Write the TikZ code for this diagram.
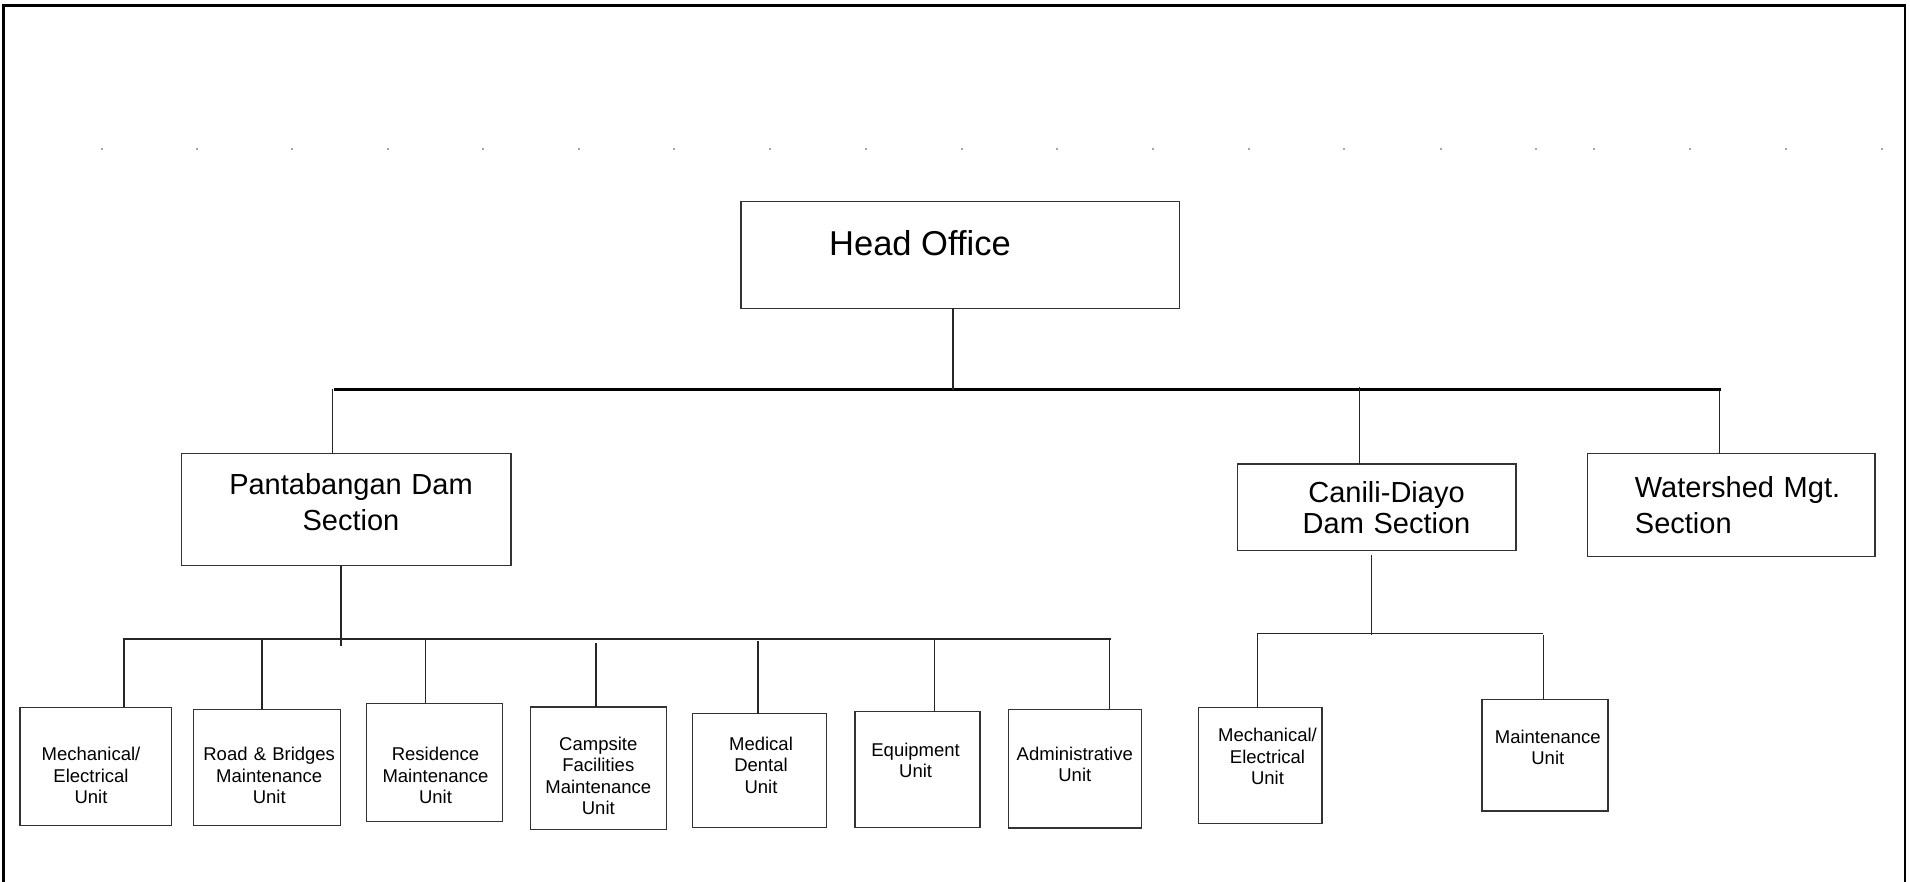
\documentclass[tikz,border=0pt]{standalone}
\usepackage{fontspec}
\setmainfont{Liberation Sans}
\begin{document}
\begin{tikzpicture}[x=1pt,y=-1pt,
  box/.style={draw=black!80, line width=1.3pt, inner sep=0pt, outer sep=0pt, anchor=north west},
  conn/.style={draw=black!85, line width=1.1pt},
  mainbar/.style={draw=black, line width=2.3pt},
  headtext/.style={font=\fontsize{34.5}{40}\selectfont, inner sep=0pt, anchor=base west},
  secttext/.style={font=\fontsize{29}{36}\selectfont, inner sep=0pt, anchor=base, text width=300pt, align=center},
  unittext/.style={font=\fontsize{18.5}{21.6}\selectfont, inner sep=0pt, anchor=base, text width=160pt, align=center},
  tabmark/.style={fill=black!35}
]
\useasboundingbox (0,0) rectangle (1910,882);
\fill[white] (0,0) rectangle (1910,882);

% page frame (open at the bottom)
\draw[line width=2.3pt, black] (3.5,882) -- (3.5,5.5) -- (1905,5.5) -- (1905,882);

% faint tab marks
\foreach \x in {102,197,292,388,483,579,674,770,866,962,1057,1153,1249,1344,1441,1536,1594,1690,1786,1882}
  \fill[tabmark] (\x-1.2,148.5) rectangle (\x+1.2,150);

% ---------- boxes ----------
\node[box, minimum width=438.5pt, minimum height=107pt] (head) at (741,201.5) {};
\node[box, minimum width=329.7pt, minimum height=112pt] (pant) at (181.3,453.7) {};
\node[box, minimum width=278.4pt, minimum height=86.7pt] (can)  at (1237.6,464) {};
\node[box, minimum width=287.5pt, minimum height=103pt] (wat) at (1587.5,453.7) {};

\node[box, minimum width=151.5pt, minimum height=118pt]   (u1) at (20,707.2) {};
\node[box, minimum width=147.3pt, minimum height=116pt]   (u2) at (193.3,709.3) {};
\node[box, minimum width=135.7pt, minimum height=118.4pt] (u3) at (366.5,703.3) {};
\node[box, minimum width=135.7pt, minimum height=122.3pt] (u4) at (530.8,707) {};
\node[box, minimum width=133.9pt, minimum height=113.6pt] (u5) at (692.4,713.7) {};
\node[box, minimum width=125pt,   minimum height=115.6pt] (u6) at (854.9,711.7) {};
\node[box, minimum width=133pt,   minimum height=118.7pt] (u7) at (1008.5,709.3) {};
\node[box, minimum width=123.3pt, minimum height=116pt]   (u8) at (1198.7,707.5) {};
\node[box, minimum width=126pt,   minimum height=111.7pt] (u9) at (1482,699.3) {};

% ---------- texts ----------
\node[headtext] (headT) at (829,256) {Head Office};
\node[secttext] (pantT) at (351,494) {Pantabangan Dam\\Section};
\node[secttext, font=\fontsize{29}{30.5}\selectfont] (canT) at (1386.5,502.7) {Canili-Diayo\\Dam Section};
\node[secttext, align=left, anchor=base west, text width=240pt, font=\fontsize{29}{35.3}\selectfont] (watT) at (1634.7,497.7) {Watershed Mgt.\\Section};

\node[unittext] (u1T) at (91,760.7)   {Mechanical/\\Electrical\\Unit};
\node[unittext] (u2T) at (269.2,760.7)  {Road \& Bridges\\Maintenance\\Unit};
\node[unittext] (u3T) at (435.5,760.5)  {Residence\\Maintenance\\Unit};
\node[unittext] (u4T) at (598.3,750)  {Campsite\\Facilities\\Maintenance\\Unit};
\node[unittext] (u5T) at (761,750)    {Medical\\Dental\\Unit};
\node[unittext] (u6T) at (915.6,756)  {Equipment\\Unit};
\node[unittext] (u7T) at (1074.8,760) {Administrative\\Unit};
\node[unittext] (u8T) at (1267.5,741.7) {Mechanical/\\Electrical\\Unit};
\node[unittext] (u9T) at (1547.8,743.3) {Maintenance\\Unit};

% ---------- top level connectors ----------
\coordinate (tbL) at (334,389.5);
\coordinate (tbR) at (1721,389.5);
\coordinate (hoJ) at (953,389.5);
\coordinate (pJ)  at (332.5,389.3);
\coordinate (cJ)  at (1359.5,386.7);
\coordinate (wJ)  at (1719.5,390);

\draw[mainbar] (tbL) -- (tbR);
\draw[conn] (head.south -| hoJ) -- (hoJ);
\draw[conn] (pJ) -- (pJ |- pant.north);
\draw[conn] (cJ) -- (cJ |- can.north);
\draw[conn] (wJ) -- (wJ |- wat.north);

% ---------- Pantabangan units ----------
\coordinate (psL) at (122.8,639);
\coordinate (psR) at (1111,639);
\coordinate (pdB) at (341,645.7);
\draw[conn] (psL) -- (psR);
\draw[conn] (pant.south -| pdB) -- (pdB);

\coordinate (d1) at (124,639);
\coordinate (d2) at (262,639);
\coordinate (d3) at (425.5,639);
\coordinate (d4) at (596,643.3);
\coordinate (d5) at (758,641);
\coordinate (d6) at (934.8,639);
\coordinate (d7) at (1109.8,639);
\draw[conn] (d1) -- (d1 |- u1.north);
\draw[conn] (d2) -- (d2 |- u2.north);
\draw[conn] (d3) -- (d3 |- u3.north);
\draw[conn] (d4) -- (d4 |- u4.north);
\draw[conn] (d5) -- (d5 |- u5.north);
\draw[conn] (d6) -- (d6 |- u6.north);
\draw[conn] (d7) -- (d7 |- u7.north);

% ---------- Canili-Diayo units ----------
\coordinate (cdT) at (1371.4,555);
\coordinate (cdB) at (1371.4,635);
\coordinate (csL) at (1257.5,633.3);
\coordinate (csR) at (1542.7,633.3);
\coordinate (d8) at (1257.5,633.3);
\coordinate (d9) at (1543.2,635);
\draw[conn] (cdT) -- (cdB);
\draw[conn] (csL) -- (csR);
\draw[conn] (d8) -- (d8 |- u8.north);
\draw[conn] (d9) -- (d9 |- u9.north);
\end{tikzpicture}
\end{document}
